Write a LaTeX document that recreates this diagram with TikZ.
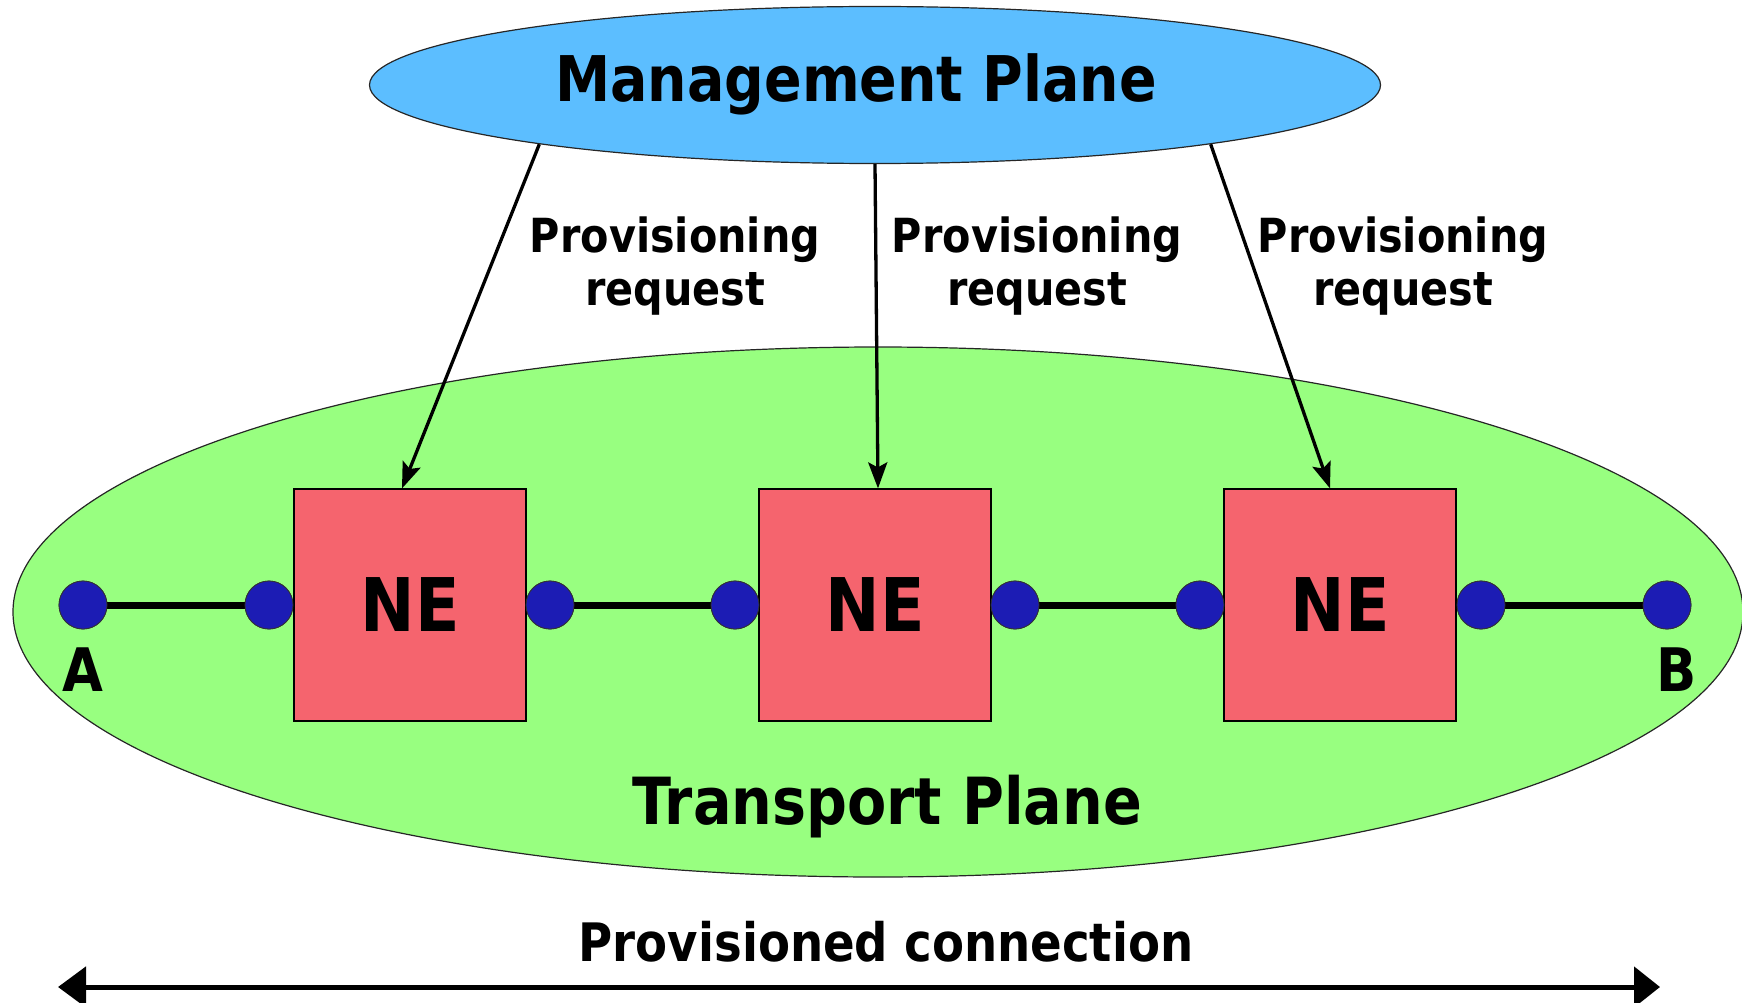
\documentclass[tikz,border=0pt]{standalone}
\usepackage{fontspec}
\setmainfont{DejaVu Sans}[FakeStretch=0.88]
\usetikzlibrary{arrows.meta,shapes.geometric}
\definecolor{mpblue}{RGB}{92,190,255}
\definecolor{tpgreen}{RGB}{152,255,128}
\definecolor{nered}{RGB}{245,100,110}
\definecolor{dotblue}{RGB}{28,28,180}
\begin{document}
\begin{tikzpicture}[x=1pt,y=-1pt,
  plane/.style={ellipse, draw=black!85, line width=1.2pt, inner sep=0},
  nebox/.style={rectangle, draw=black, line width=1.2pt, fill=nered, minimum size=232pt, inner sep=0,
    font=\fontsize{74}{80}\selectfont\bfseries},
  port/.style={circle, fill=dotblue, draw=black!80, line width=0.8pt, minimum size=48pt, inner sep=0},
  link/.style={line width=7pt},
  req/.style={line width=3.3pt, -{Stealth[length=26pt,width=19pt,inset=5pt]}},
  reqlbl/.style={align=center, font=\fontsize{47}{53}\selectfont\bfseries},
  bigtext/.style={font=\fontsize{63}{70}\selectfont\bfseries},
  endlbl/.style={font=\fontsize{60}{66}\selectfont\bfseries}
]
\useasboundingbox (0,0) rectangle (1742,1003);
% planes
\node[plane, fill=tpgreen, minimum width=1730pt, minimum height=530pt] (tp) at (878,612) {};
\node[plane, fill=mpblue, minimum width=1011pt, minimum height=157pt] (mp) at (875,85) {};
\node[bigtext] (mpl) at (856,84) {Management Plane};
\node[font=\fontsize{65}{70}\selectfont\bfseries] (tpl) at (887,807) {Transport Plane};
% ports (coordinates first for links)
\node[port] (pA) at (83,605) {};
\node[port] (p1) at (269,605) {};
\node[port] (p2) at (550,605) {};
\node[port] (p3) at (735,605) {};
\node[port] (p4) at (1015,605) {};
\node[port] (p5) at (1200,605) {};
\node[port] (p6) at (1481,605) {};
\node[port] (pB) at (1667,605) {};
\draw[link] (pA) -- (p1);
\draw[link] (p2) -- (p3);
\draw[link] (p4) -- (p5);
\draw[link] (p6) -- (pB);
% NE boxes
\node[nebox] (ne1) at (410,605) {NE};
\node[nebox] (ne2) at (875,605) {NE};
\node[nebox] (ne3) at (1340,605) {NE};
% redraw ports on top
\foreach \p/\x in {pA/83,p1/269,p2/550,p3/735,p4/1015,p5/1200,p6/1481,pB/1667}
  \node[port] at (\x,605) {};
\node[endlbl] (la) at (83,670) {A};
\node[endlbl] (lb) at (1677,670) {B};
% provisioning requests
\draw[req] (mp.190) -- ([xshift=-8pt]ne1.north);
\draw[req] (mp.south) -- ([xshift=3pt]ne2.north);
\draw[req] (mp.-10) -- ([xshift=-10pt]ne3.north);
\node[reqlbl] (r1) at (675,266) {Provisioning\\request};
\node[reqlbl] (r2) at (1037,266) {Provisioning\\request};
\node[reqlbl] (r3) at (1403,266) {Provisioning\\request};
% provisioned connection
\node[font=\fontsize{53}{58}\selectfont\bfseries] (pc) at (886,942) {Provisioned connection};
\coordinate (cl) at (58,987);
\coordinate (cr) at (1660,987);
\draw[line width=5pt, {Triangle[length=28pt,width=40pt]}-{Triangle[length=26pt,width=40pt]}] (cl) -- (cr);
\end{tikzpicture}
\end{document}
